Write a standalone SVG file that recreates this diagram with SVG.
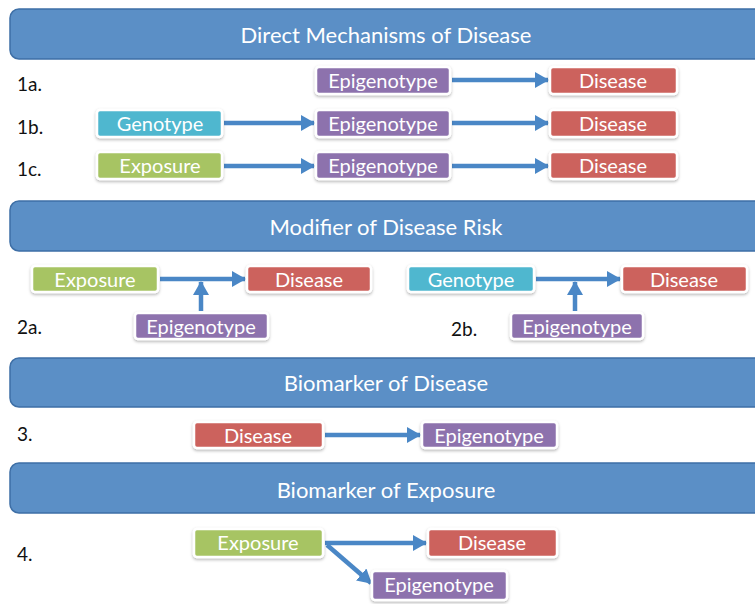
<svg xmlns="http://www.w3.org/2000/svg" width="755" height="604" viewBox="0 0 755 604">
<defs>
<style>
.banner{fill:#5b8fc6;stroke:#3e6fa6;stroke-width:1.5}
.btxt{font-family:Lato,"Open Sans",sans-serif;font-size:22px;fill:#ffffff;text-anchor:middle}
.lbl{font-family:Lato,"Open Sans",sans-serif;font-size:19px;fill:#111111}
.box{stroke:#ffffff;stroke-width:2.5;filter:url(#sh)}
.ntxt{font-family:Lato,"Open Sans",sans-serif;font-size:20px;fill:#ffffff;text-anchor:middle}
.epi{fill:#8d72ad}
.dis{fill:#cc625d}
.gen{fill:#4fb7cf}
.exp{fill:#a7c464}
.arr{stroke:#4a87c6;stroke-width:4.5;fill:none;marker-end:url(#ah)}
</style>
<marker id="ah" markerUnits="userSpaceOnUse" markerWidth="14" markerHeight="16" refX="13" refY="8" orient="auto">
<path d="M0,0 L14,8 L0,16 Z" fill="#4a87c6"/>
</marker>
<filter id="sh" x="-10%" y="-30%" width="120%" height="170%">
<feDropShadow dx="0" dy="1.5" stdDeviation="1.5" flood-color="#000" flood-opacity="0.3"/>
</filter>
</defs>

<g id="banner1"><rect class="banner" x="10" y="9" width="760" height="50" rx="9"/><text class="btxt" x="386" y="43">Direct Mechanisms of Disease</text></g>
<g id="banner2"><rect class="banner" x="10" y="201" width="760" height="50" rx="9"/><text class="btxt" x="386" y="235">Modifier of Disease Risk</text></g>
<g id="banner3"><rect class="banner" x="10" y="358" width="760" height="49" rx="9"/><text class="btxt" x="386" y="391">Biomarker of Disease</text></g>
<g id="banner4"><rect class="banner" x="10" y="463" width="760" height="50" rx="9"/><text class="btxt" x="386" y="498">Biomarker of Exposure</text></g>

<g id="labels">
<text class="lbl" x="17" y="91">1a.</text>
<text class="lbl" x="17" y="134">1b.</text>
<text class="lbl" x="17" y="176">1c.</text>
<text class="lbl" x="17" y="334">2a.</text>
<text class="lbl" x="451" y="336">2b.</text>
<text class="lbl" x="17" y="441">3.</text>
<text class="lbl" x="17" y="561">4.</text>
</g>

<g id="connectors">
<line class="arr" x1="452" y1="80" x2="548" y2="80"/>
<line class="arr" x1="224" y1="123" x2="314" y2="123"/>
<line class="arr" x1="452" y1="123" x2="548" y2="123"/>
<line class="arr" x1="224" y1="166" x2="314" y2="166"/>
<line class="arr" x1="452" y1="166" x2="548" y2="166"/>
<line class="arr" x1="160" y1="279" x2="245" y2="279"/>
<line class="arr" x1="201" y1="311" x2="201" y2="282"/>
<line class="arr" x1="536" y1="279" x2="620" y2="279"/>
<line class="arr" x1="575" y1="311" x2="575" y2="282"/>
<line class="arr" x1="325" y1="435" x2="420" y2="435"/>
<line class="arr" x1="325" y1="543" x2="426" y2="543"/>
<line class="arr" x1="327" y1="545" x2="371" y2="583"/>
</g>

<g id="n1a-epi"><rect class="box epi" x="316" y="67" width="134" height="27" rx="3"/><text class="ntxt" x="383" y="88">Epigenotype</text></g>
<g id="n1a-dis"><rect class="box dis" x="550" y="67" width="127" height="27" rx="3"/><text class="ntxt" x="613" y="88">Disease</text></g>
<g id="n1b-gen"><rect class="box gen" x="97" y="110" width="125" height="27" rx="3"/><text class="ntxt" x="160" y="131">Genotype</text></g>
<g id="n1b-epi"><rect class="box epi" x="316" y="110" width="134" height="27" rx="3"/><text class="ntxt" x="383" y="131">Epigenotype</text></g>
<g id="n1b-dis"><rect class="box dis" x="550" y="110" width="127" height="27" rx="3"/><text class="ntxt" x="613" y="131">Disease</text></g>
<g id="n1c-exp"><rect class="box exp" x="97" y="152" width="125" height="27" rx="3"/><text class="ntxt" x="160" y="173">Exposure</text></g>
<g id="n1c-epi"><rect class="box epi" x="316" y="152" width="134" height="27" rx="3"/><text class="ntxt" x="383" y="173">Epigenotype</text></g>
<g id="n1c-dis"><rect class="box dis" x="550" y="152" width="127" height="27" rx="3"/><text class="ntxt" x="613" y="173">Disease</text></g>

<g id="n2a-exp"><rect class="box exp" x="32" y="266" width="126" height="26" rx="3"/><text class="ntxt" x="95" y="287">Exposure</text></g>
<g id="n2a-dis"><rect class="box dis" x="247" y="266" width="124" height="26" rx="3"/><text class="ntxt" x="309" y="287">Disease</text></g>
<g id="n2a-epi"><rect class="box epi" x="135" y="313" width="133" height="26" rx="3"/><text class="ntxt" x="201" y="334">Epigenotype</text></g>
<g id="n2b-gen"><rect class="box gen" x="408" y="266" width="126" height="26" rx="3"/><text class="ntxt" x="471" y="287">Genotype</text></g>
<g id="n2b-dis"><rect class="box dis" x="622" y="266" width="125" height="26" rx="3"/><text class="ntxt" x="684" y="287">Disease</text></g>
<g id="n2b-epi"><rect class="box epi" x="511" y="313" width="132" height="26" rx="3"/><text class="ntxt" x="577" y="334">Epigenotype</text></g>

<g id="n3-dis"><rect class="box dis" x="194" y="422" width="129" height="26" rx="3"/><text class="ntxt" x="258" y="443">Disease</text></g>
<g id="n3-epi"><rect class="box epi" x="422" y="422" width="135" height="26" rx="3"/><text class="ntxt" x="489" y="443">Epigenotype</text></g>

<g id="n4-exp"><rect class="box exp" x="194" y="529" width="129" height="28" rx="3"/><text class="ntxt" x="258" y="550">Exposure</text></g>
<g id="n4-dis"><rect class="box dis" x="428" y="529" width="129" height="28" rx="3"/><text class="ntxt" x="492" y="550">Disease</text></g>
<g id="n4-epi"><rect class="box epi" x="372" y="571" width="135" height="29" rx="3"/><text class="ntxt" x="439" y="592">Epigenotype</text></g>
</svg>
